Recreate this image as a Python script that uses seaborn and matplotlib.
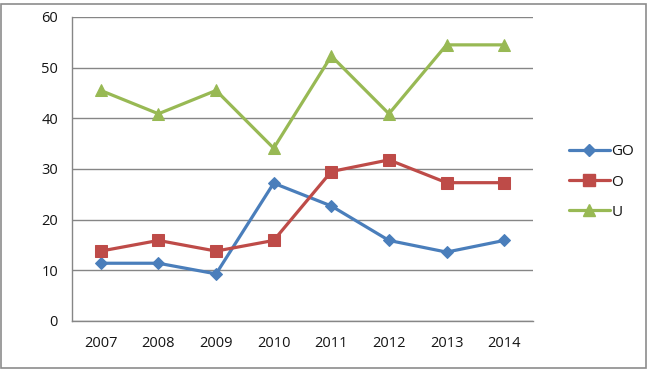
import numpy as np
import pandas as pd
import matplotlib
matplotlib.use("Agg")
import matplotlib.pyplot as plt
import seaborn as sns
from matplotlib.lines import Line2D
from matplotlib.patches import Rectangle

years = ["2007", "2008", "2009", "2010", "2011", "2012", "2013", "2014"]
go = [11.4, 11.4, 9.3, 27.2, 22.7, 15.9, 13.6, 15.9]
o = [13.8, 15.9, 13.8, 15.9, 29.5, 31.8, 27.3, 27.3]
u = [45.5, 40.9, 45.5, 34.1, 52.3, 40.9, 54.5, 54.5]
series_names = ["GO", "O", "U"]
colors = ["#4A7EBB", "#BE4B48", "#98B954"]
markers = ["D", "s", "^"]
msizes = [6.5, 8, 8.5]

sns.set_theme(style="white")
plt.rcParams['font.family'] = ['Open Sans', 'DejaVu Sans']

rows = []
for name, vals in zip(series_names, [go, o, u]):
    for i, v in enumerate(vals):
        rows.append({"x": i, "value": v, "series": name})
df = pd.DataFrame(rows)

fig = plt.figure(figsize=(6.5, 3.69), dpi=100)
ax = fig.add_axes([72/650, 1-321/369, (533-72)/650, (321-17)/369])

for name, c, m, ms in zip(series_names, colors, markers, msizes):
    sub = df[df.series == name]
    sns.lineplot(data=sub, x="x", y="value", ax=ax, color=c, marker=m,
                 markersize=ms, markeredgecolor=c, linewidth=2.3, legend=False)

grid_c = "#868686"
txt_c = "#141414"
ax.set_ylim(0, 60)
ax.set_xlim(-0.5, 7.5)
ax.set_yticks(range(0, 61, 10))
ax.yaxis.grid(True, color=grid_c, linewidth=1)
ax.set_axisbelow(True)
ax.set_xticks(range(len(years)))
ax.set_xticklabels(years)
ax.set_xticks(np.arange(-0.5, 8.0, 1.0), minor=True)
ax.tick_params(axis="x", which="major", length=0, pad=11, labelsize=10.5, labelcolor=txt_c)
ax.tick_params(axis="x", which="minor", length=5, width=1, color=grid_c, direction="out")
ax.tick_params(axis="y", which="major", length=5, width=1, color=grid_c, direction="out",
               pad=5, labelsize=10.5, labelcolor=txt_c)
ax.set_xlabel("")
ax.set_ylabel("")
for s in ["top", "right"]:
    ax.spines[s].set_visible(False)
for s in ["left", "bottom"]:
    ax.spines[s].set_color(grid_c)
    ax.spines[s].set_linewidth(1)

handles = [Line2D([0], [0], color=c, marker=m, markersize=ms, markeredgecolor=c, linewidth=2.3)
           for c, m, ms in zip(colors, markers, msizes)]
leg = fig.legend(handles, series_names, loc="center left", bbox_to_anchor=(555/650, 1-182/369),
                 frameon=False, handlelength=2.7, handletextpad=0.1, labelspacing=1.0,
                 fontsize=11)
for t in leg.get_texts():
    t.set_color(txt_c)

fig.patches.append(Rectangle((1/650, 1/369), 645/650, 364/369, transform=fig.transFigure,
                             fill=False, edgecolor="#8c8c8c", linewidth=1.2))

fig.savefig("out.png", dpi=100)
